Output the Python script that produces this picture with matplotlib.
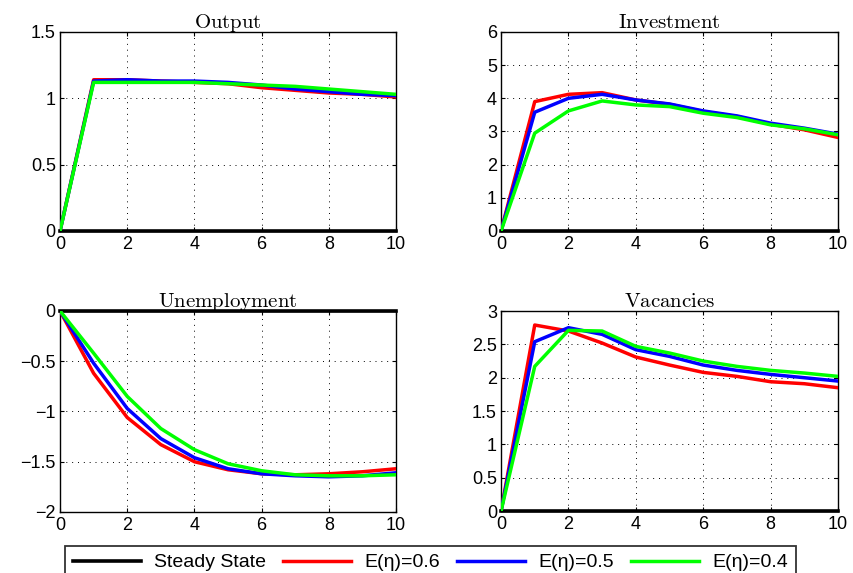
import numpy as np
import matplotlib
matplotlib.use("Agg")
import matplotlib.pyplot as plt

plt.rcParams['font.family'] = ['Liberation Sans', 'DejaVu Sans']
plt.rcParams['mathtext.fontset'] = 'cm'

t = np.arange(0, 11)

titles = ['Output', 'Investment', 'Unemployment', 'Vacancies']
labels = ['Steady State', 'E(\u03b7)=0.6', 'E(\u03b7)=0.5', 'E(\u03b7)=0.4']

output_06 = [0, 1.14, 1.14, 1.13, 1.12, 1.11, 1.08, 1.06, 1.04, 1.03, 1.01]
output_05 = [0, 1.13, 1.14, 1.13, 1.13, 1.12, 1.10, 1.07, 1.05, 1.03, 1.02]
output_04 = [0, 1.12, 1.12, 1.12, 1.12, 1.11, 1.10, 1.09, 1.07, 1.05, 1.03]

invest_06 = [0, 3.90, 4.12, 4.17, 3.95, 3.82, 3.60, 3.45, 3.22, 3.05, 2.82]
invest_05 = [0, 3.58, 4.00, 4.12, 3.95, 3.83, 3.62, 3.47, 3.25, 3.10, 2.92]
invest_04 = [0, 2.95, 3.62, 3.92, 3.80, 3.75, 3.55, 3.42, 3.20, 3.08, 2.90]

unemp_06 = [0, -0.62, -1.06, -1.33, -1.50, -1.58, -1.62, -1.63, -1.62, -1.60, -1.57]
unemp_05 = [0, -0.52, -0.97, -1.27, -1.46, -1.57, -1.62, -1.64, -1.65, -1.64, -1.61]
unemp_04 = [0, -0.42, -0.85, -1.17, -1.38, -1.52, -1.59, -1.63, -1.64, -1.64, -1.63]

vac_06 = [0, 2.79, 2.70, 2.52, 2.31, 2.19, 2.08, 2.02, 1.94, 1.91, 1.85]
vac_05 = [0, 2.54, 2.75, 2.65, 2.42, 2.32, 2.19, 2.11, 2.05, 2.00, 1.95]
vac_04 = [0, 2.17, 2.71, 2.70, 2.47, 2.37, 2.25, 2.17, 2.11, 2.07, 2.02]

series = [(output_06, output_05, output_04),
          (invest_06, invest_05, invest_04),
          (unemp_06, unemp_05, unemp_04),
          (vac_06, vac_05, vac_04)]
ylims = [(0, 1.5), (0, 6), (-2, 0), (0, 3)]
yticks = [[0, 0.5, 1, 1.5], [0, 1, 2, 3, 4, 5, 6], [-2, -1.5, -1, -0.5, 0],
          [0, 0.5, 1, 1.5, 2, 2.5, 3]]
ytl = [['0', '0.5', '1', '1.5'], ['0', '1', '2', '3', '4', '5', '6'],
       ['\u22122', '\u22121.5', '\u22121', '\u22120.5', '0'],
       ['0', '0.5', '1', '1.5', '2', '2.5', '3']]

pos = [[0.0703, 0.5969, 0.3934, 0.3473],
       [0.5867, 0.5969, 0.3946, 0.3473],
       [0.0703, 0.1065, 0.3934, 0.3508],
       [0.5867, 0.1080, 0.3946, 0.3492]]

colors = ['red', 'blue', '#00ff00']

fig = plt.figure(figsize=(8.54, 5.73), dpi=100)
handles = None
for i in range(4):
    ax = fig.add_axes(pos[i])
    h0, = ax.plot(t, np.zeros(len(t)), color='black', lw=2.6, clip_on=False, zorder=3)
    hs = [h0]
    for s, c in zip(series[i], colors):
        h, = ax.plot(t, s, color=c, lw=2.5, zorder=4)
        hs.append(h)
    handles = hs
    ax.set_xlim(0, 10)
    ax.set_ylim(*ylims[i])
    ax.set_xticks([0, 2, 4, 6, 8, 10])
    ax.set_yticks(yticks[i])
    ax.set_yticklabels(ytl[i])
    ax.tick_params(labelsize=13, direction='in', top=True, right=True,
                   length=3)
    ax.tick_params(axis='x', pad=3.5)
    ax.tick_params(axis='y', pad=3)
    ax.grid(True, color='black', linestyle=(0, (1, 5)), lw=0.7)
    for sp in ax.spines.values():
        sp.set_linewidth(1.0)
    ax.set_title(r'$\mathrm{' + titles[i] + '}$', fontsize=15, pad=3)

fig.legend(handles, labels, loc='upper center', ncol=4,
           bbox_to_anchor=(0.504, 0.064), bbox_transform=fig.transFigure,
           fontsize=14, frameon=True, fancybox=False, edgecolor='black',
           handlelength=3.5, handletextpad=0.7, columnspacing=0.85,
           borderpad=0.4)
leg = fig.legends[0]
leg.get_frame().set_linewidth(1.3)

fig.savefig('out.png', dpi=100)
